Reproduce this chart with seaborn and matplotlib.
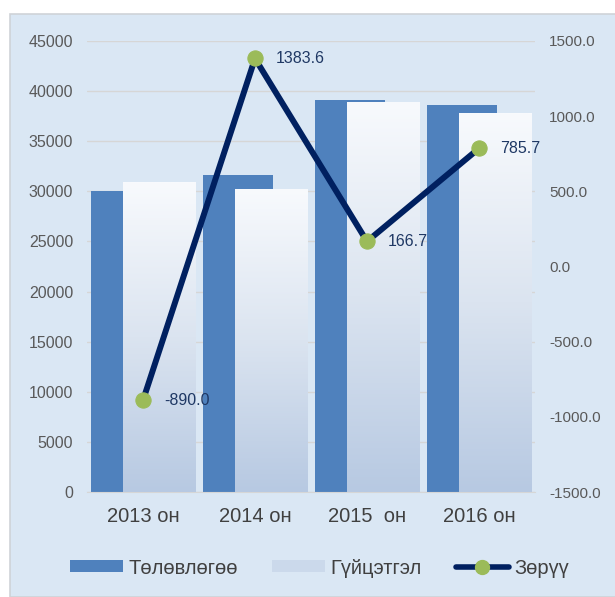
import numpy as np
import pandas as pd
import matplotlib
matplotlib.use('Agg')
import matplotlib.pyplot as plt
import seaborn as sns
from matplotlib.patches import Rectangle, Patch
from matplotlib.lines import Line2D
from matplotlib.colors import LinearSegmentedColormap
from matplotlib.ticker import FormatStrFormatter

# --- data ---
years = ['2013 он', '2014 он', '2015  он', '2016 он']
plan = [30010, 31620, 39130, 38600]          # Төлөвлөгөө
actual = [30900, 30236.4, 38963.3, 37814.3]  # Гүйцэтгэл
diff = [-890.0, 1383.6, 166.7, 785.7]        # Зөрүү
series_names = ['Төлөвлөгөө', 'Гүйцэтгэл', 'Зөрүү']

sns.set_style('white')
plt.rcParams['font.family'] = ['Liberation Sans', 'DejaVu Sans']

df = pd.DataFrame({
    'year': years * 2,
    'value': plan + actual,
    'series': [series_names[0]] * len(years) + [series_names[1]] * len(years),
})

fig = plt.figure(figsize=(6.15, 5.97), dpi=100, facecolor='white')
# light blue panel behind the chart
fig.patches.append(Rectangle((10 / 615, 0), 1, (597 - 14) / 597, transform=fig.transFigure,
                             facecolor='#dae7f4', edgecolor='#cfd3d8', lw=1.2, zorder=-5))

ax = fig.add_axes([87 / 615, 105 / 597, 448 / 615, 451 / 597])
ax.set_facecolor('none')

sns.barplot(data=df, x='year', y='value', hue='series', palette=['#4f81bd', '#eef3f9'],
            saturation=1, legend=False, linewidth=0, ax=ax)

# overlapping bars: blue shifted left, light bar shifted right and drawn on top
n = len(years)
grad_cmap = LinearSegmentedColormap.from_list('bar', [(0, '#b7c9e2'), (0.5, '#dbe4f0'), (1, '#f8fafd')])
gradient = np.linspace(0, 1, 256).reshape(-1, 1)
for i, p in enumerate(ax.patches[:n]):
    p.set_width(0.625)
    p.set_x(i - 0.152 - 0.625 / 2)
    p.set_zorder(2)
for i, p in enumerate(ax.patches[n:2 * n]):
    p.set_width(0.643)
    p.set_x(i + 0.143 - 0.643 / 2)
    p.set_zorder(3)
    x0, h = p.get_x(), p.get_height()
    im = ax.imshow(gradient, cmap=grad_cmap, origin='lower', aspect='auto',
                   extent=(x0, x0 + p.get_width(), 0, h), zorder=3.1)
    im.set_clip_path(p)

ax.set_xlim(-0.5, n - 0.5)
ax.set_ylim(0, 45000)
ax.set_yticks(np.arange(0, 45001, 5000))
ax.set_axisbelow(True)
ax.yaxis.grid(True, color='#d6d6d6', lw=1)
ax.set_xlabel('')
ax.set_ylabel('')
ax.tick_params(axis='y', length=0, pad=10, labelsize=11.5, labelcolor='#595959')
ax.tick_params(axis='x', length=0, pad=11, labelsize=14.5, labelcolor='#404040')
for s in ['top', 'right', 'left']:
    ax.spines[s].set_visible(False)
ax.spines['bottom'].set_color('#d6d6d6')

# difference line on secondary axis
ax2 = ax.twinx()
sns.lineplot(x=np.arange(n), y=diff, ax=ax2, color='#002060', lw=4.3, marker='o',
             markersize=11, markerfacecolor='#9bbb59', markeredgecolor='#9bbb59',
             sort=False, legend=False, zorder=5)
ax2.set_ylim(-1500, 1500)
ax2.set_yticks(np.arange(-1500, 1501, 500))
ax2.yaxis.set_major_formatter(FormatStrFormatter('%.1f'))
ax2.tick_params(axis='y', length=0, pad=10, labelsize=11, labelcolor='#595959')
ax2.set_ylabel('')
ax2.grid(False)
for s in ax2.spines.values():
    s.set_visible(False)
ax.set_xlim(-0.5, n - 0.5)

for i, v in enumerate(diff):
    ax2.annotate(f'{v:.1f}', (i, v), xytext=(15, 0), textcoords='offset points',
                 ha='left', va='center', fontsize=11.5, color='#1f3864', zorder=6)

handles = [
    Patch(facecolor='#4f81bd', edgecolor='none'),
    Patch(facecolor='#cbd9eb', edgecolor='none'),
    Line2D([0], [0], color='#002060', lw=4, marker='o', markersize=10,
           markerfacecolor='#9bbb59', markeredgecolor='#9bbb59'),
]
fig.legend(handles, series_names, loc='center', bbox_to_anchor=(0.52, (597 - 568) / 597),
           ncol=3, frameon=False, fontsize=14.5, handlelength=2.6, handleheight=0.55,
           handletextpad=0.3, columnspacing=1.7, labelcolor='#404040')

fig.savefig('out.png', dpi=100, facecolor=fig.get_facecolor())
